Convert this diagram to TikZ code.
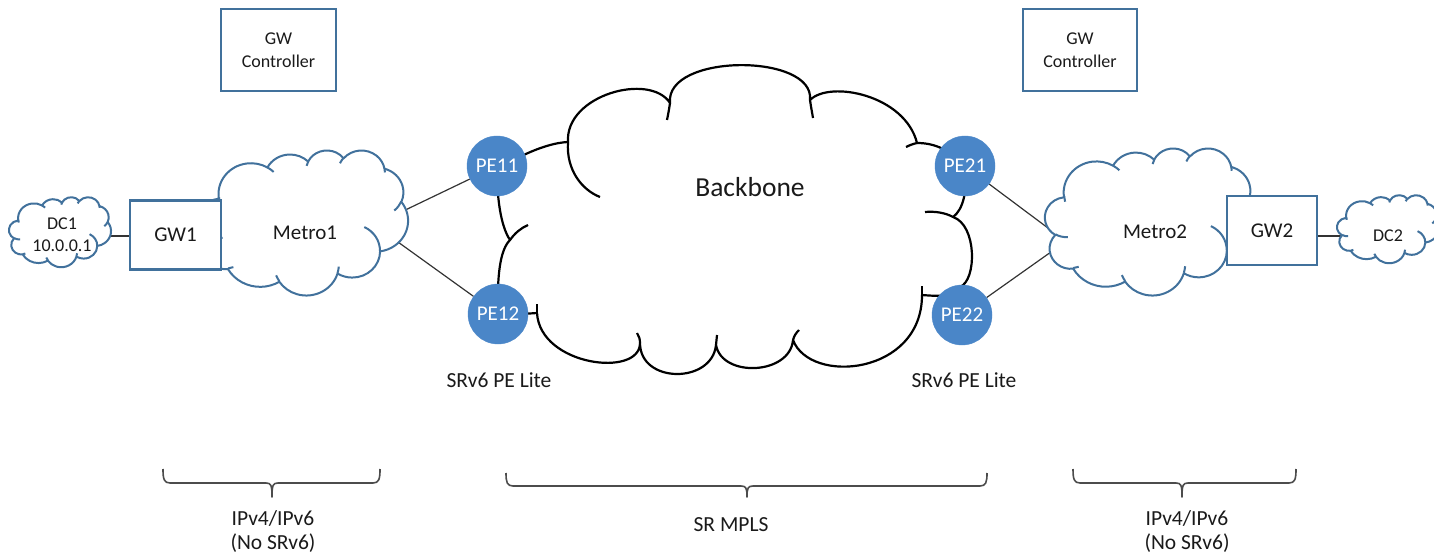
\documentclass[tikz,border=0pt]{standalone}
\usepackage{fontspec}
\setmainfont{Carlito}
\definecolor{cblue}{HTML}{41719C}
\definecolor{pefill}{HTML}{4A86C8}
\definecolor{txt}{HTML}{1A1A1A}
\pgfdeclarelayer{bg}
\pgfsetlayers{bg,main}
\newcommand\oocloud[5]{%
\begin{scope}[shift={(#1,#2)},x=#3,y=-#4]
\path[#5] (9.028,33.264)
 arc[oo={15.632}{21.273}{-190.487}{123.781}]
 arc[oo={12.345}{16.822}{-144.102}{89.945}]
 arc[oo={10.104}{13.762}{-145.808}{99.723}]
 arc[oo={11.243}{15.266}{-130.986}{117.242}]
 arc[oo={12.345}{16.836}{-78.709}{109.027}]
 arc[oo={15.683}{21.343}{-46.267}{130.269}]
 arc[oo={13.391}{18.211}{0.625}{114.033}]
 arc[oo={15.630}{21.331}{22.452}{115.173}]
 arc[oo={17.870}{24.405}{66.243}{75.711}]
 arc[oo={10.093}{13.699}{-274.942}{146.736}]
 arc[oo={10.058}{13.762}{-246.829}{152.519}]
 -- cycle;
\path[#5,fill=none]
 (10.864,60.595) arc[oo={10.058}{13.762}{86.742}{26.430}]
 (16.037,80.785) arc[oo={10.093}{13.699}{73.610}{11.447}]
 (38.144,90.486) arc[oo={15.630}{21.331}{137.624}{14.081}]
 (66.729,80.442) arc[oo={15.630}{21.331}{6.453}{15.998}]
 (79.002,53.134) arc[oo={13.391}{18.211}{-70.292}{70.917}]
 (96.755,35.542) arc[oo={12.345}{16.836}{30.318}{27.752}]
 (88.713,12.560) arc[oo={11.243}{15.266}{-13.744}{14.859}]
 (67.310,9.148) arc[oo={11.243}{15.266}{-149.181}{18.195}]
 (51.252,10.926) arc[oo={10.104}{13.762}{-163.494}{17.686}]
 (32.407,12.019) arc[oo={15.632}{21.273}{-66.707}{12.319}]
 (9.553,36.549) arc[oo={15.632}{21.273}{162.048}{14.105}];
\end{scope}}
\newcommand\curlybrace[6]{%
\draw[bracestyle] (#1,#4) .. controls (#1,#5-4) and (#1+1,#5) .. (#1+7,#5) -- (#3-6,#5)
 .. controls (#3-1,#5) and (#3,#5+2) .. (#3,#6)
 .. controls (#3,#5+2) and (#3+1,#5) .. (#3+6,#5) -- (#2-7,#5)
 .. controls (#2-1,#5) and (#2,#5-4) .. (#2,#4);}
\begin{document}
\begin{tikzpicture}[x=1pt,y=-1pt,
 declare function={ooa(\Wr,\Hr,\Sa)=atan2(\Wr*sin(\Sa),\Hr*cos(\Sa));
   ood(\Wr,\Hr,\Sa,\Da)=ooa(\Wr,\Hr,\Sa+\Da)-ooa(\Wr,\Hr,\Sa)+360*round((\Da-ooa(\Wr,\Hr,\Sa+\Da)+ooa(\Wr,\Hr,\Sa))/360);},
 oo/.style n args={4}{start angle={ooa(#1,#2,#3)},delta angle={ood(#1,#2,#3,#4)},x radius={#1},y radius={#2}},
 bluecloud/.style={draw=cblue,line width=2pt,line join=round,fill=white},
 bbcloud/.style={draw=black,line width=2.2pt,line join=round,fill=white},
 hook/.style={draw=black,line width=2.2pt},
 gwbox/.style={draw=cblue,line width=2.2pt,fill=white,inner sep=0pt,text=txt},
 pe/.style={circle,fill=pefill,draw=pefill,inner sep=0pt,minimum size=60pt,text=white,font=\fontsize{21}{25}\selectfont},
 conn/.style={draw=black!80,line width=1.2pt},
 lbl/.style={text=txt,inner sep=0pt,align=center},
 bracestyle/.style={draw=black!70,line width=1.6pt,line join=round}
]
\useasboundingbox (0,0) rectangle (1434,556);

% blue clouds
\oocloud{200}{150}{2.08pt}{1.45pt}{bluecloud}
\oocloud{1045}{148}{2.10pt}{1.47pt}{bluecloud}
\oocloud{9}{197}{1.02pt}{0.70pt}{bluecloud}
\oocloud{1337}{195}{1.02pt}{0.68pt}{bluecloud}

% gateway boxes
\node[gwbox,minimum width=115pt,minimum height=82pt,font=\fontsize{18}{23}\selectfont,align=center] (GWC1) at (278.5,50) {GW\\Controller};
\node[gwbox,minimum width=114pt,minimum height=82pt,font=\fontsize{18}{23}\selectfont,align=center] (GWC2) at (1080,50) {GW\\Controller};
\node[gwbox,minimum width=91pt,minimum height=69pt,font=\fontsize{21}{25}\selectfont] (GW1) at (175.5,235) {GW1};
\node[gwbox,minimum width=90pt,minimum height=69pt,font=\fontsize{21}{25}\selectfont] (GW2) at (1272,230.5) {GW2};

% backbone cloud
\path[bbcloud] (497,170)
 .. controls (515,158) and (545,143) .. (568,142)
 .. controls (565,95) and (650,72) .. (670,103)
 .. controls (665,53) and (815,53) .. (810,100)
 .. controls (830,80) and (905,95) .. (917,143)
 .. controls (935,143) and (950,150) .. (965,166)
 .. controls (968,190) and (963,210) .. (953,217)
 .. controls (977,225) and (977,280) .. (960,287)
 .. controls (958,298) and (935,296) .. (922,295)
 .. controls (922,375) and (810,385) .. (793,340)
 .. controls (790,375) and (722,378) .. (716,345)
 .. controls (712,384) and (640,384) .. (640,343)
 .. controls (640,378) and (540,366) .. (537,313)
 .. controls (525,314) and (510,314) .. (498,314)
 .. controls (497,275) and (500,250) .. (510,240)
 .. controls (500,225) and (497,195) .. cycle;
\path[hook] (568,142) .. controls (566,170) and (582,190) .. (600,197);
\path[hook] (670,103) .. controls (669,110) and (668,115) .. (667,120);
\path[hook] (810,100) .. controls (811,107) and (812,112) .. (813,118);
\path[hook] (917,143) .. controls (913,144) and (910,145) .. (906,147);
\path[hook] (925,212) .. controls (935,211) and (946,213) .. (953,217);
\path[hook] (922,296) -- (922,286);
\path[hook] (793,340) .. controls (794,336) and (796,333) .. (799,330);
\path[hook] (716,345) -- (717,335);
\path[hook] (640,343) .. controls (640,339) and (639,336) .. (637,333);
\path[hook] (537,314) -- (537,304);
\path[hook] (510,240) .. controls (515,233) and (521,228) .. (528,225);

% PE routers
\node[pe] (PE11) at (497,166) {PE11};
\node[pe] (PE12) at (498,314) {PE12};
\node[pe] (PE21) at (965,166) {PE21};
\node[pe] (PE22) at (962,315) {PE22};

% labels
\node[lbl,font=\fontsize{27.5}{33}\selectfont] (BB) at (750,187) {Backbone};
\node[lbl,font=\fontsize{21}{25}\selectfont] (M1) at (305,233) {Metro1};
\node[lbl,font=\fontsize{21}{25}\selectfont] (M2) at (1155,232) {Metro2};
\node[lbl,font=\fontsize{18}{22}\selectfont] (DC1) at (62,235) {DC1\\10.0.0.1};
\node[lbl,font=\fontsize{18}{22}\selectfont] (DC2) at (1388,236) {DC2};
\node[lbl,font=\fontsize{21.5}{26}\selectfont] (L1) at (499,380) {SRv6 PE Lite};
\node[lbl,font=\fontsize{21.5}{26}\selectfont] (L2) at (964,380) {SRv6 PE Lite};
\node[lbl,font=\fontsize{21.5}{24}\selectfont] (B1) at (273,532) {IPv4/IPv6\\(No SRv6)};
\node[lbl,font=\fontsize{21.5}{25}\selectfont] (B2) at (731,525) {SR MPLS};
\node[lbl,font=\fontsize{21.5}{24}\selectfont] (B3) at (1187,532) {IPv4/IPv6\\(No SRv6)};

% braces
\curlybrace{163}{380}{272}{469}{483}{497}
\curlybrace{506}{987}{747}{473}{486}{497}
\curlybrace{1073}{1296}{1182}{469}{483}{497}

% connectors (behind clouds)
\coordinate (m1a) at (397,214);
\coordinate (m1b) at (391,237);
\coordinate (m2a) at (1056,234);
\coordinate (m2b) at (1058,247);
\coordinate (dc1in) at (100,236);
\coordinate (dc2in) at (1350,236);
\begin{pgfonlayer}{bg}
\draw[conn] (m1a) -- (PE11);
\draw[conn] (m1b) -- (PE12);
\draw[conn] (m2a) -- (PE21);
\draw[conn] (m2b) -- (PE22);
\draw[conn] (dc1in) -- (dc1in -| GW1.west);
\draw[conn] (dc2in) -- (dc2in -| GW2.east);
\end{pgfonlayer}
\end{tikzpicture}
\end{document}
